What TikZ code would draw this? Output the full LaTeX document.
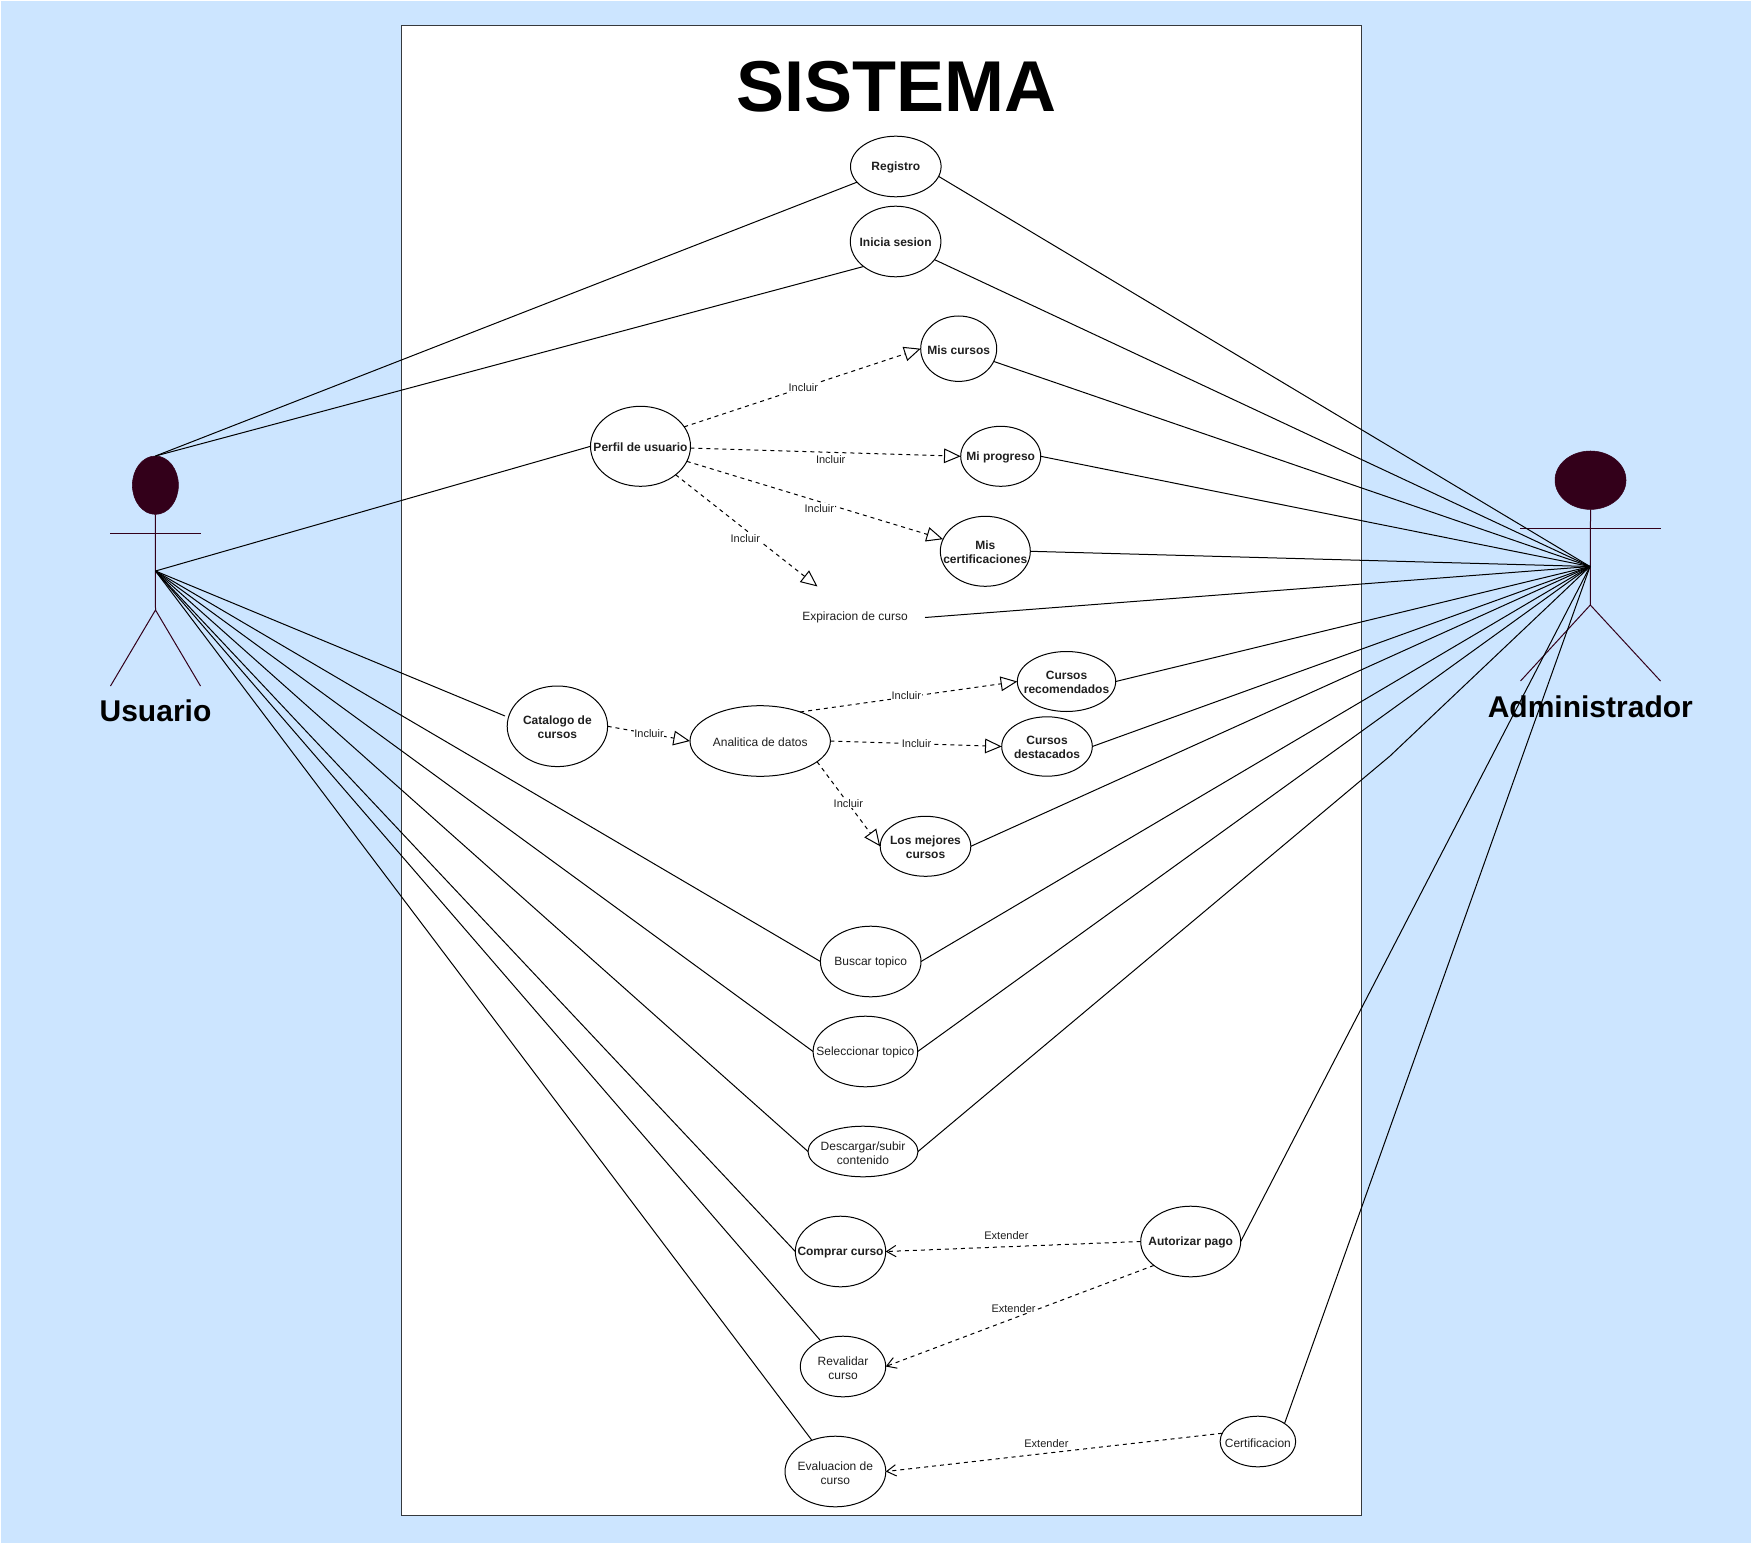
\documentclass[tikz,border=0pt]{standalone}
\usepackage{fontspec}
\setmainfont{Liberation Sans}
\usetikzlibrary{shapes.geometric,arrows.meta}
\definecolor{bgblue}{HTML}{CCE5FF}
\definecolor{framec}{HTML}{36393D}
\definecolor{actorc}{HTML}{33001A}
\tikzset{
  usecase/.style n args={2}{ellipse,draw=black,fill=white,line width=.75pt,inner sep=0pt,outer sep=0pt,
     minimum width=1.5pt*#1,minimum height=1.5pt*#2},
  ucreg/.style={font=\fontsize{9}{10.5}\selectfont,align=center,inner sep=0pt,text=black!88,yshift=-.9pt},
  ucbold/.style={font=\fontsize{9}{10.5}\selectfont\bfseries,align=center,inner sep=0pt,text=black!88,yshift=-.9pt},
  assoc/.style={draw=black,line width=.75pt},
  incl/.style={draw=black,line width=.75pt,dash pattern=on 3pt off 3pt,-{Triangle[open,length=12.5pt,width=11pt,line width=.75pt]}},
  extd/.style={draw=black,line width=.75pt,dash pattern=on 3pt off 3pt,-{Straight Barb[length=7pt,width=8.5pt,line width=.75pt]}},
  edgelab/.style={font=\fontsize{8.25}{10}\selectfont,fill=white,inner sep=.6pt,text=black!88},
  actorline/.style={draw=actorc,line width=.75pt},
  actorhead/.style n args={2}{ellipse,draw=actorc,fill=actorc,inner sep=0pt,outer sep=0pt,
     minimum width=1.5pt*#1,minimum height=1.5pt*#2},
  actorname/.style={font=\fontsize{22.5}{26}\selectfont\bfseries,inner sep=0pt},
}
\begin{document}
\begin{tikzpicture}[x=.75pt,y=-.75pt]
\useasboundingbox (0,0) rectangle (1751,1544);
\fill[white] (0,0) rectangle (1751,1544);
\fill[bgblue] (1,1) rectangle (1750.5,1543);
\draw[framec,fill=white,line width=.75pt] (401.7,25.3) rectangle (1361.7,1515);
\node[font=\fontsize{54}{60}\selectfont\bfseries,inner sep=0pt] (title) at (896.6,87) {SISTEMA};

% use cases
\node[usecase={45.3}{30.3},label={[ucbold]center:Registro}] (reg) at (895.8,166.5) {};
\node[usecase={45.3}{35.3},label={[ucbold]center:Inicia sesion}] (ini) at (895.6,241.5) {};
\node[usecase={50}{40},label={[ucbold]center:Perfil de usuario}] (per) at (640.5,446.3) {};
\node[usecase={38}{32.7},label={[ucbold]center:Mis cursos}] (mcu) at (958.7,348.7) {};
\node[usecase={40}{30},label={[ucbold]center:Mi progreso}] (mpr) at (1000.7,456.3) {};
\node[usecase={45}{35},label={[ucbold]center:{Mis\\certificaciones}}] (mce) at (985.3,551.3) {};
\node[minimum width=105pt,minimum height=46.5pt,inner sep=0pt,outer sep=0pt,font=\fontsize{9}{10.5}\selectfont,text=black!88] (exp) at (855,617.5) {Expiracion de curso};
\coordinate (expTip) at (817.5,586.5);
\node[usecase={50.2}{40.3},label={[ucbold]center:{Catalogo de\\cursos}}] (cat) at (557.4,726.3) {};
\coordinate (catL) at (505,716);
\node[usecase={70.2}{35.3},label={[ucreg]center:Analitica de datos}] (ana) at (760.2,741) {};
\node[usecase={49.2}{30},label={[ucbold]center:{Cursos\\recomendados}}] (rec) at (1066.5,681.5) {};
\node[usecase={45.3}{29.7},label={[ucbold]center:{Cursos\\destacados}}] (des) at (1047,746.5) {};
\node[usecase={45.3}{30},label={[ucbold]center:{Los mejores\\cursos}}] (mej) at (925.5,846.3) {};
\node[usecase={50.3}{35.3},label={[ucreg]center:Buscar topico}] (bus) at (870.7,961.5) {};
\node[usecase={52.3}{35.3},label={[ucreg]center:Seleccionar topico}] (sel) at (865.4,1051.5) {};
\node[usecase={55}{25.3},label={[ucreg]center:{Descargar/subir\\contenido}}] (dsc) at (863,1151.5) {};
\node[usecase={45.2}{35.3},label={[ucbold]center:Comprar curso}] (com) at (840.5,1251.5) {};
\node[usecase={50}{35.3},label={[ucbold]center:Autorizar pago}] (aut) at (1190.7,1241.5) {};
\node[usecase={42.7}{30.3},label={[ucreg]center:{Revalidar\\curso}}] (rev) at (843,1366.5) {};
\node[usecase={50.4}{35.3},label={[ucreg]center:{Evaluacion de\\curso}}] (eva) at (835.4,1471.5) {};
\node[usecase={37.8}{25.3},label={[ucreg]center:Certificacion}] (cer) at (1257.9,1441.5) {};

% actor: Usuario
\node[actorhead={23}{29.2}] (uHead) at (155.4,485.2) {};
\coordinate (uTop) at (155.5,456);
\coordinate (uMid) at (155.5,571);
\coordinate (uHip) at (155.5,610);
\coordinate (uArmL) at (110.3,533);
\coordinate (uArmR) at (200.7,533);
\coordinate (uFootL) at (110.5,686);
\coordinate (uFootR) at (200.5,686);
\draw[actorline] (uHead.south) -- (uHip);
\draw[actorline] (uArmL) -- (uArmR);
\draw[actorline] (uFootL) -- (uHip) -- (uFootR);
\node[actorname] (uName) at (155.5,711) {Usuario};

% actor: Administrador
\node[actorhead={35.5}{29.2}] (aHead) at (1590.5,480.2) {};
\coordinate (aMid) at (1590,566.5);
\coordinate (aHip) at (1590.3,605);
\coordinate (aArmL) at (1520,528);
\coordinate (aArmR) at (1660.7,528);
\coordinate (aFootL) at (1520.5,681);
\coordinate (aFootR) at (1660.5,681);
\draw[actorline] (aHead.south) -- (aHip);
\draw[actorline] (aArmL) -- (aArmR);
\draw[actorline] (aFootL) -- (aHip) -- (aFootR);
\node[actorname] (aName) at (1590.3,706.5) {Administrador};

% associations, Usuario side
\draw[assoc] (uTop) -- (reg.202);
\draw[assoc] (uTop) -- (ini.218);
\draw[assoc] (uMid) -- (per.west);
\draw[assoc] (uMid) -- (catL);
\draw[assoc] (uMid) -- (bus.west);
\draw[assoc] (uMid) -- (sel.west);
\draw[assoc] (uMid) -- (dsc.west);
\draw[assoc] (uMid) -- (com.west);
\draw[assoc] (uMid) -- (rev.131);
\draw[assoc] (uMid) -- (eva.127.5);

% associations, Administrador side
\draw[assoc] (reg.347) -- (aMid);
\draw[assoc] (ini.335) -- (aMid);
\draw[assoc] (mcu.340) -- (aMid);
\draw[assoc] (mpr.east) -- (aMid);
\draw[assoc] (mce.east) -- (aMid);
\draw[assoc] (exp.east) -- (aMid);
\draw[assoc] (rec.east) -- (aMid);
\draw[assoc] (des.east) -- (aMid);
\draw[assoc] (mej.east) -- (aMid);
\draw[assoc] (bus.east) -- (aMid);
\draw[assoc] (sel.east) -- (aMid);
\coordinate (dscBend) at (1390,756);
\draw[assoc] (dsc.east) -- (dscBend) -- (aMid);
\draw[assoc] (aut.east) -- (aMid);
\draw[assoc] (cer.34) -- (aMid);

% include
\draw[incl] (per.24) -- (mcu.west);
\draw[incl] (per.358) -- (mpr.west);
\draw[incl] (per.342.4) -- (mce.164);
\draw[incl] (per.321.7) -- (expTip);
\draw[incl] (cat.east) -- (ana.west);
\draw[incl] (ana.36.6) -- (rec.west);
\draw[incl] (ana.east) -- (des.west);
\draw[incl] (ana.340) -- (mej.west);

% extend
\draw[extd] (aut.west) -- (com.east);
\draw[extd] (aut.213.4) -- (rev.east);
\draw[extd] (cer.167) -- (eva.east);

% edge labels
\node[edgelab] (l1) at (803.3,387.3) {Incluir};
\node[edgelab] (l2) at (830.7,459.6) {Incluir};
\node[edgelab] (l3) at (819.3,508.3) {Incluir};
\node[edgelab] (l4) at (745.3,538.3) {Incluir};
\node[edgelab] (l5) at (649,733.7) {Incluir};
\node[edgelab] (l6) at (906.3,696) {Incluir};
\node[edgelab] (l7) at (916.5,743.3) {Incluir};
\node[edgelab] (l8) at (848.4,803.3) {Incluir};
\node[edgelab,fill=none] (l9) at (1006.4,1236) {Extender};
\node[edgelab] (l10) at (1013.6,1308.3) {Extender};
\node[edgelab,fill=none] (l11) at (1046.4,1443.3) {Extender};
\end{tikzpicture}
\end{document}
